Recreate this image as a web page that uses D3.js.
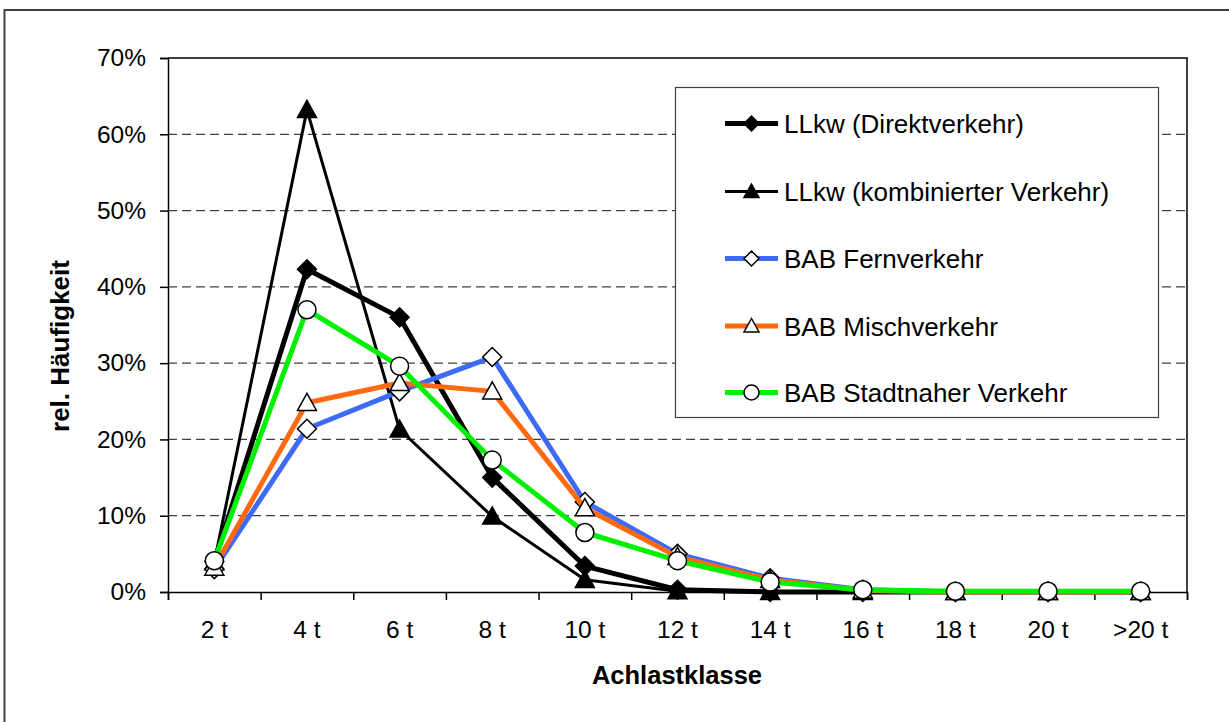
<!DOCTYPE html>
<html>
<head>
<meta charset="utf-8">
<script src="https://cdn.jsdelivr.net/npm/d3@7"></script>
<style>
  html, body { margin: 0; padding: 0; background: #fff; }
  svg { display: block; font-family: "Liberation Sans", Arial, sans-serif; }
</style>
</head>
<body>
<svg id="chart" width="1229" height="722"></svg>
<script>
const categories = ["2 t", "4 t", "6 t", "8 t", "10 t", "12 t", "14 t", "16 t", "18 t", "20 t", ">20 t"];
const llkwDirekt   = [4.0, 42.3, 36.0, 15.0, 3.4, 0.3, 0.0, 0.0, 0.0, 0.0, 0.0];
const llkwKombi    = [3.9, 63.2, 21.3, 9.9, 1.6, 0.1, 0.0, 0.0, 0.0, 0.0, 0.0];
const babFern      = [3.0, 21.4, 26.3, 30.8, 11.8, 5.0, 1.8, 0.3, 0.0, 0.0, 0.0];
const babMisch     = [3.2, 24.8, 27.4, 26.3, 11.0, 4.6, 1.6, 0.2, 0.0, 0.0, 0.0];
const babStadt     = [4.1, 37.0, 29.6, 17.3, 7.8, 4.1, 1.3, 0.3, 0.1, 0.1, 0.1];
const yTicks = [0, 10, 20, 30, 40, 50, 60, 70];
const seriesNames = ["LLkw (Direktverkehr)", "LLkw (kombinierter Verkehr)", "BAB Fernverkehr", "BAB Mischverkehr", "BAB Stadtnaher Verkehr"];

const series = [
  { name: seriesNames[0], values: llkwDirekt, color: "#000000", width: 5,   marker: "diamond",  fill: "#000000" },
  { name: seriesNames[1], values: llkwKombi,  color: "#000000", width: 3,   marker: "triangle", fill: "#000000" },
  { name: seriesNames[2], values: babFern,    color: "#3D6BF5", width: 5,   marker: "diamond",  fill: "#ffffff" },
  { name: seriesNames[3], values: babMisch,   color: "#FF6A10", width: 5,   marker: "triangle", fill: "#ffffff" },
  { name: seriesNames[4], values: babStadt,   color: "#00F000", width: 5,   marker: "circle",   fill: "#ffffff" }
];

const svg = d3.select("#chart");
const L = 168, R = 1187, T = 58, B = 592;

// outer frame (top + left visible)
svg.append("path")
  .attr("d", `M4.5,722 L4.5,10 L1229,10`)
  .attr("fill", "none").attr("stroke", "#404040").attr("stroke-width", 2);

const x = d3.scaleBand().domain(categories).range([L, R]).paddingInner(0).paddingOuter(0);
const xEdge = d3.scaleLinear().domain([0, categories.length]).range([L, R]);
const y = d3.scaleLinear().domain([0, 70]).range([B, T]);

// gridlines
svg.append("g").selectAll("line").data(yTicks.filter(d => d > 0 && d < 70)).join("line")
  .attr("x1", L).attr("x2", R)
  .attr("y1", d => y(d)).attr("y2", d => y(d))
  .attr("stroke", "#404040").attr("stroke-width", 1.2)
  .attr("stroke-dasharray", "9,5");

// plot border top/right
svg.append("path")
  .attr("d", `M${L},${T} L${R},${T} L${R},${B}`)
  .attr("fill", "none").attr("stroke", "#000").attr("stroke-width", 1.5);

// y axis
const yAxis = svg.append("g").attr("transform", `translate(${L},0)`)
  .call(d3.axisLeft(y).tickValues(yTicks).tickSize(8).tickPadding(14).tickFormat(d => d + "%"));
yAxis.select(".domain").attr("stroke", "#000").attr("stroke-width", 1.5);
yAxis.selectAll(".tick line").attr("stroke", "#000").attr("stroke-width", 1.5);
yAxis.selectAll(".tick text").attr("font-size", 24.5).attr("fill", "#000")
  .attr("font-family", "Liberation Sans, Arial, sans-serif");

// x axis ticks at category edges
const xTickAxis = svg.append("g").attr("transform", `translate(0,${B})`)
  .call(d3.axisBottom(xEdge).tickValues(d3.range(categories.length + 1)).tickSize(8).tickFormat(""));
xTickAxis.select(".domain").attr("stroke", "#000").attr("stroke-width", 1.5);
xTickAxis.selectAll(".tick line").attr("stroke", "#000").attr("stroke-width", 1.5);

// x axis labels
const xAxis = svg.append("g").attr("transform", `translate(0,${B})`)
  .call(d3.axisBottom(x).tickSize(0).tickPadding(29));
xAxis.select(".domain").remove();
xAxis.selectAll(".tick text").attr("font-size", 24.5).attr("fill", "#000")
  .attr("font-family", "Liberation Sans, Arial, sans-serif");

// axis titles
svg.append("text").attr("x", 677).attr("y", 684).attr("text-anchor", "middle")
  .attr("font-size", 25.5).attr("font-weight", "bold").text("Achlastklasse");
svg.append("text").attr("transform", "translate(69,346) rotate(-90)").attr("text-anchor", "middle")
  .attr("font-size", 26).attr("font-weight", "bold").text("rel. Häufigkeit");

function drawMarker(g, type, cx, cy, size, fill) {
  if (type === "diamond") {
    const h = size;
    g.append("path").attr("d", `M${cx},${cy - h} L${cx + h},${cy} L${cx},${cy + h} L${cx - h},${cy} Z`)
      .attr("fill", fill).attr("stroke", "#000").attr("stroke-width", 1.5);
  } else if (type === "triangle") {
    const h = size;
    g.append("path").attr("d", `M${cx},${cy - h} L${cx + h},${cy + h * 0.8} L${cx - h},${cy + h * 0.8} Z`)
      .attr("fill", fill).attr("stroke", "#000").attr("stroke-width", 1.5);
  } else {
    g.append("circle").attr("cx", cx).attr("cy", cy).attr("r", size)
      .attr("fill", fill).attr("stroke", "#000").attr("stroke-width", 1.5);
  }
}

const line = d3.line().x((d, i) => x(categories[i]) + x.bandwidth() / 2).y(d => y(d));

series.forEach(s => {
  const g = svg.append("g");
  g.append("path").attr("d", line(s.values)).attr("fill", "none")
    .attr("stroke", s.color).attr("stroke-width", s.width).attr("stroke-linejoin", "round");
  s.values.forEach((v, i) => {
    drawMarker(g, s.marker, x(categories[i]) + x.bandwidth() / 2, y(v),
      s.marker === "circle" ? 9 : 9.5, s.fill);
  });
});

// legend
const lg = svg.append("g");
lg.append("rect").attr("x", 675.5).attr("y", 87.5).attr("width", 483).attr("height", 330)
  .attr("fill", "#fff").attr("stroke", "#404040").attr("stroke-width", 1.2);
const legendY = [123.5, 191.5, 258.5, 326, 392.5];
series.forEach((s, i) => {
  const cy = legendY[i];
  lg.append("line").attr("x1", 725).attr("x2", 778).attr("y1", cy).attr("y2", cy)
    .attr("stroke", s.color).attr("stroke-width", s.width);
  drawMarker(lg, s.marker, 751.5, cy, 7.5, s.fill);
  lg.append("text").attr("x", 784).attr("y", cy + 9.5).attr("font-size", 26).attr("fill", "#000")
    .text(s.name);
});
</script>
</body>
</html>
